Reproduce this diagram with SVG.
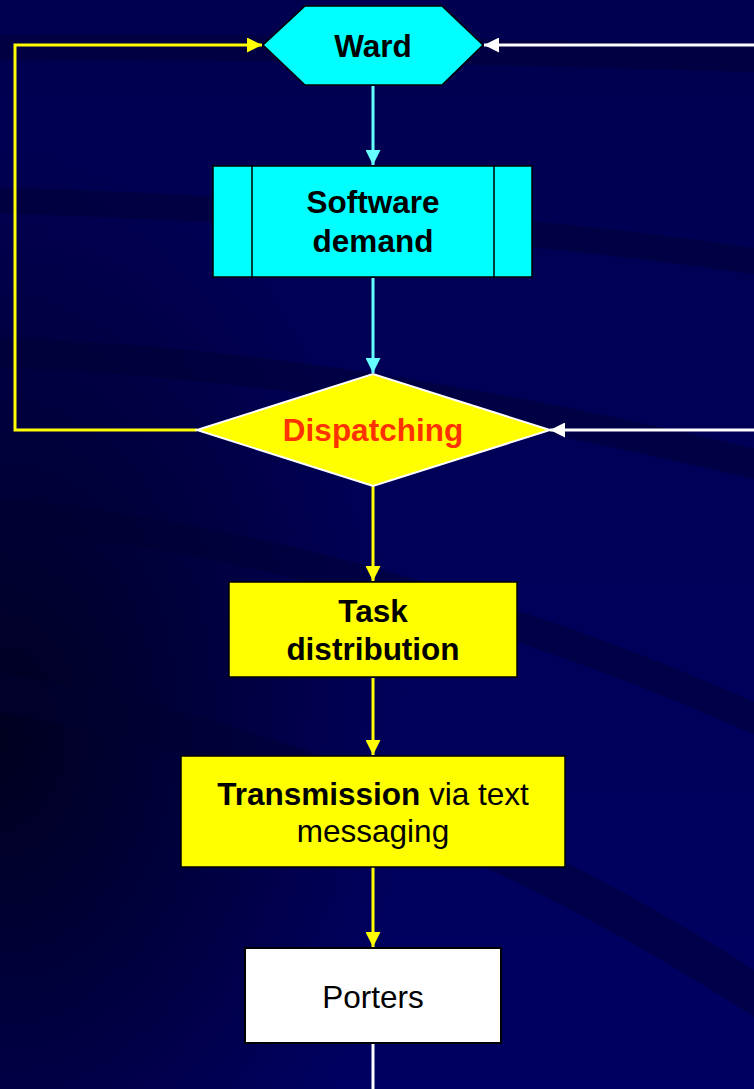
<svg xmlns="http://www.w3.org/2000/svg" width="754" height="1089" viewBox="0 0 754 1089">
<defs>
<linearGradient id="bg" x1="0" y1="0" x2="0" y2="1">
<stop offset="0" stop-color="#000050"/>
<stop offset="1" stop-color="#000062"/>
</linearGradient>
<radialGradient id="dark" cx="0" cy="0.68" r="0.55">
<stop offset="0" stop-color="#000018" stop-opacity="0.9"/>
<stop offset="1" stop-color="#000018" stop-opacity="0"/>
</radialGradient>
<marker id="aCyan" viewBox="0 0 10 10" refX="10" refY="5" markerWidth="5" markerHeight="5" orient="auto" markerUnits="strokeWidth">
<path d="M0,0 L10,5 L0,10 Z" fill="#66FFFF"/>
</marker>
<marker id="aYellow" viewBox="0 0 10 10" refX="10" refY="5" markerWidth="5" markerHeight="5" orient="auto" markerUnits="strokeWidth">
<path d="M0,0 L10,5 L0,10 Z" fill="#FFFF00"/>
</marker>
<marker id="aWhite" viewBox="0 0 10 10" refX="10" refY="5" markerWidth="5" markerHeight="5" orient="auto" markerUnits="strokeWidth">
<path d="M0,0 L10,5 L0,10 Z" fill="#FFFFFF"/>
</marker>
</defs>
<style>
.lbl{font-family:"Liberation Sans",Arial,sans-serif;font-size:31.5px;fill:#000;text-anchor:middle}
.b{font-weight:bold}
.cy{stroke:#66FFFF;stroke-width:3;fill:none}
.ye{stroke:#FFFF00;stroke-width:3;fill:none}
.wh{stroke:#FFFFFF;stroke-width:3;fill:none}
.band{fill:none;stroke:#000030;stroke-opacity:0.45}
</style>
<g id="background">
<rect width="754" height="1089" fill="url(#bg)"/>
<rect width="754" height="1089" fill="url(#dark)"/>
<path class="band" stroke-width="26" d="M-20,48 C150,46 400,48 780,60"/>
<path class="band" stroke-width="26" d="M-20,200 C200,205 520,225 780,265"/>
<path class="band" stroke-width="30" d="M-20,352 C200,358 450,390 780,470"/>
<path class="band" stroke-width="30" d="M-20,512 C220,530 520,610 780,730"/>
<path class="band" stroke-width="40" d="M-20,690 C250,730 520,840 780,1010" stroke-opacity="0.3"/>
</g>
<g id="connectors">
<line class="cy" x1="373" y1="86" x2="373" y2="165" marker-end="url(#aCyan)"/>
<line class="cy" x1="373" y1="278" x2="373" y2="373" marker-end="url(#aCyan)"/>
<line class="ye" x1="373" y1="486" x2="373" y2="581" marker-end="url(#aYellow)"/>
<line class="ye" x1="373" y1="678" x2="373" y2="755" marker-end="url(#aYellow)"/>
<line class="ye" x1="373" y1="867" x2="373" y2="947" marker-end="url(#aYellow)"/>
<polyline class="ye" points="197,430 15,430 15,45 262,45" marker-end="url(#aYellow)"/>
<line class="wh" x1="756" y1="45" x2="484" y2="45" marker-end="url(#aWhite)"/>
<line class="wh" x1="756" y1="430" x2="550" y2="430" marker-end="url(#aWhite)"/>
<line class="wh" x1="373" y1="1044" x2="373" y2="1090"/>
</g>
<g id="ward">
<polygon points="263,45 305,6 442,6 483,45 442,85 305,85" fill="#00FFFF" stroke="#000" stroke-width="1.5"/>
<text class="lbl b" x="373" y="57">Ward</text>
</g>
<g id="software-demand">
<rect x="213" y="166" width="319" height="111" fill="#00FFFF" stroke="#000" stroke-width="1.5"/>
<line x1="252" y1="166" x2="252" y2="277" stroke="#000" stroke-width="1.5"/>
<line x1="494" y1="166" x2="494" y2="277" stroke="#000" stroke-width="1.5"/>
<text class="lbl b" x="373" y="213">Software</text>
<text class="lbl b" x="373" y="252">demand</text>
</g>
<g id="dispatching">
<polygon points="197,430 373,374 550,430 373,486" fill="#FFFF00" stroke="#FFFFFF" stroke-width="2"/>
<text class="lbl b" x="373" y="441" style="fill:#FF3300">Dispatching</text>
</g>
<g id="task-distribution">
<rect x="229" y="582" width="288" height="95" fill="#FFFF00" stroke="#000" stroke-width="1.5"/>
<text class="lbl b" x="373" y="622">Task</text>
<text class="lbl b" x="373" y="660">distribution</text>
</g>
<g id="transmission">
<rect x="181" y="756" width="384" height="111" fill="#FFFF00" stroke="#000" stroke-width="1.5"/>
<text class="lbl" x="373" y="805"><tspan class="b">Transmission</tspan> via text</text>
<text class="lbl" x="373" y="842">messaging</text>
</g>
<g id="porters">
<rect x="245" y="948" width="256" height="95" fill="#FFFFFF" stroke="#000" stroke-width="2"/>
<text class="lbl" x="373" y="1008">Porters</text>
</g>
</svg>
